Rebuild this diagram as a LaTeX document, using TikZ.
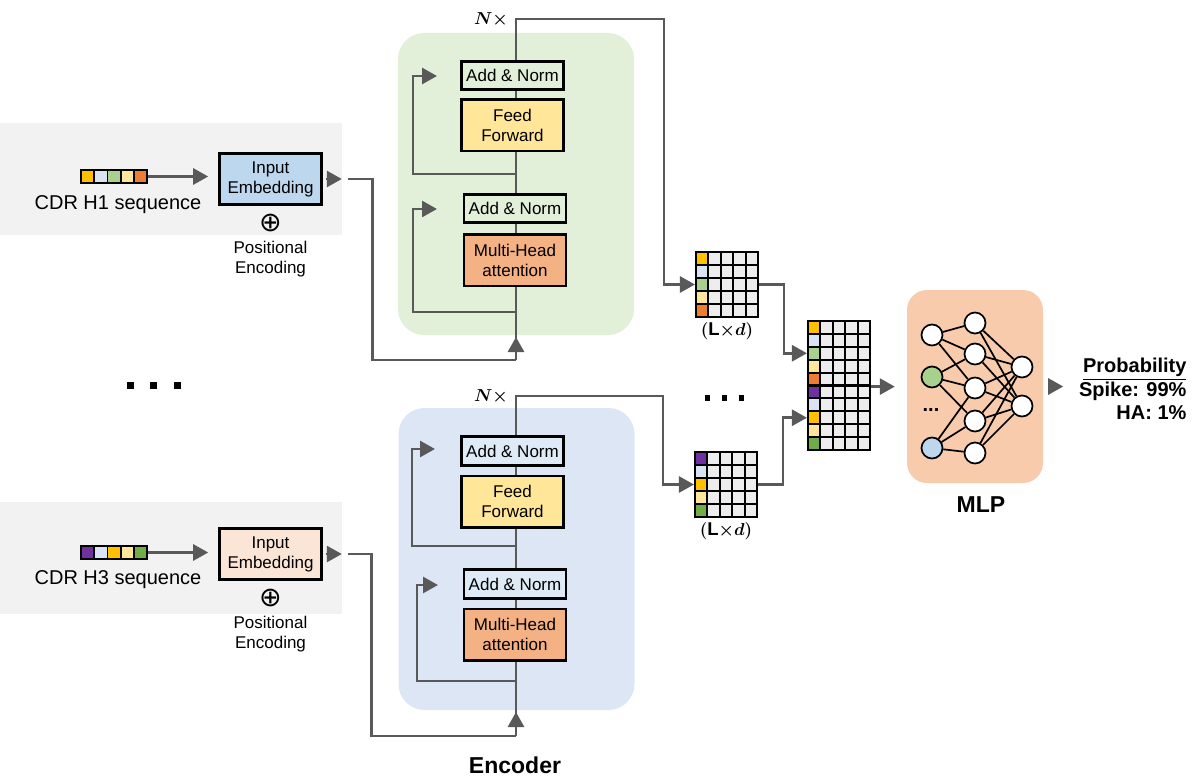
\documentclass[tikz,border=0pt]{standalone}
\usepackage{amsmath}
\usepackage{fontspec}
\setmainfont{Liberation Sans}
\newfontfamily\symfont{DejaVu Sans}
\usepackage{tikz}
\usetikzlibrary{positioning,arrows.meta,calc}
\definecolor{arrgray}{HTML}{595959}
\definecolor{bandgray}{HTML}{F2F2F2}
\definecolor{greenbg}{HTML}{E2F0D9}
\definecolor{bluebg}{HTML}{DCE6F4}
\definecolor{embblue}{HTML}{BDD7EE}
\definecolor{embpeach}{HTML}{FBE5D6}
\definecolor{ffyellow}{HTML}{FFE699}
\definecolor{mhaorange}{HTML}{F4B183}
\definecolor{mlppeach}{HTML}{F8CBAD}
\definecolor{normblue}{HTML}{DEEBF7}
\definecolor{cellgray}{HTML}{EDEDED}
\definecolor{cgold}{HTML}{FFC000}
\definecolor{clblue}{HTML}{DAE3F3}
\definecolor{cgreen}{HTML}{A9D18E}
\definecolor{cyellow}{HTML}{FFE699}
\definecolor{corange}{HTML}{ED7D31}
\definecolor{cpurple}{HTML}{7030A0}
\definecolor{cdgreen}{HTML}{70AD47}

\begin{document}
\begin{tikzpicture}[
  x=1pt, y=-1pt,
  font=\fontsize{17}{20}\selectfont,
  band/.style={fill=bandgray,inner sep=0pt,minimum width=342pt,minimum height=112pt},
  encpanel/.style={rounded corners=26pt,inner sep=0pt,minimum width=236pt,minimum height=302pt},
  blk/.style={draw=black,line width=2.6pt,align=center,minimum width=102pt,inner sep=0pt},
  addnorm/.style={blk,minimum height=28.5pt},
  layerbox/.style={blk,minimum height=51.5pt},
  sq/.style={draw=black,line width=1.8pt,minimum width=13.2pt,minimum height=13pt,inner sep=0pt},
  cell/.style={draw=black,line width=2.1pt,minimum width=12.4pt,minimum height=13pt,inner sep=0pt,fill=cellgray},
  arr/.style={-{Triangle[length=15pt,width=16pt]},draw=arrgray,line width=2.8pt},
  wire/.style={draw=arrgray,line width=2.8pt},
  neuron/.style={circle,draw=black,line width=1.7pt,fill=white,minimum size=21pt,inner sep=0pt},
  link/.style={black,line width=1.7pt},
  lab/.style={font=\fontsize{20}{24}\selectfont},
  biglab/.style={font=\bfseries\fontsize{23}{23}\selectfont},
  mathlab/.style={font=\boldmath\fontsize{18.5}{18.5}\selectfont},
  plussym/.style={font=\symfont\fontsize{27}{27}\selectfont,inner sep=0pt}
]
\useasboundingbox (0,0) rectangle (1200,784);

% input bands and panels
\node[band] (band1) at (171,179) {};
\node[band] (band2) at (171,557.5) {};
\node[encpanel,fill=greenbg] (enc1) at (516,184) {};
\node[encpanel,fill=bluebg] (enc2) at (516.5,559) {};
\node[fill=mlppeach,rounded corners=20pt,minimum width=136pt,minimum height=193pt] (mlp) at (975,386.5) {};

% embedding matrices
\foreach \r/\cc in {1/cgold,2/clblue,3/cgreen,4/cyellow,5/corange}{
  \node[cell,fill=\cc] (ma-\r-1) at (702.2,{252+13*\r-6.5}) {};
  \foreach \c in {2,...,5}
    \node[cell] (ma-\r-\c) at ({696+12.4*\c-6.2},{252+13*\r-6.5}) {};
}
\foreach \r/\cc in {1/cpurple,2/clblue,3/cgold,4/cyellow,5/cdgreen}{
  \node[cell,fill=\cc] (mb-\r-1) at (701.2,{452+13*\r-6.5}) {};
  \foreach \c in {2,...,5}
    \node[cell] (mb-\r-\c) at ({695+12.4*\c-6.2},{452+13*\r-6.5}) {};
}
\foreach \r/\cc in {1/cgold,2/clblue,3/cgreen,4/cyellow,5/corange,6/cpurple,7/clblue,8/cgold,9/cyellow,10/cdgreen}{
  \node[cell,fill=\cc] (mc-\r-1) at (814.2,{321+12.9*\r-6.45}) {};
  \foreach \c in {2,...,5}
    \node[cell] (mc-\r-\c) at ({808+12.4*\c-6.2},{321+12.9*\r-6.45}) {};
}
\node[mathlab,below=1pt of ma-5-3] (ld1) {$(\mathrm{L}{\times}d)$};
\node[mathlab,below=1pt of mb-5-3] (ld2) {$(\mathrm{L}{\times}d)$};

% CDR H1 branch
\foreach \i/\cc in {1/cgold,2/clblue,3/cgreen,4/cyellow,5/corange}
  \node[sq,fill=\cc] (sa-\i) at ({81+13.2*\i-6.6},176.5) {};
\node[lab,anchor=base] (cdr1) at (118,209) {CDR H1 sequence};
\node[blk,minimum height=51.5pt,fill=embblue] (emb1) at (270.5,179) {Input\\Embedding};
\node[plussym,below=8pt of emb1] (plus1) {⊕};
\node[below=5pt of plus1,align=center] (pe1) {Positional\\Encoding};
\draw[arr,shorten >=10pt] (sa-5.east) -- (sa-5.east -| emb1.west);
\draw[arr,shorten <=3pt] (emb1.east) -- ++(19,0);

\coordinate (t1b) at (516,360);
\coordinate (t1t) at (516,19);
\coordinate (r1a) at (516,174);
\coordinate (r1b) at (516,312);
\draw[wire] ($(emb1.east)+(25,0)$) -- ++(25,0) |- (t1b);
\draw[arr] (t1b) -- (t1t) -| ($(ma-3-1.west)+(-31,0)$) -- (ma-3-1.west);
\draw[arr] (t1b) -- ++(0,-23);
\draw[arr] (r1a) -| ++(-103,-98) -- ++(24,0);
\draw[arr] (r1b) -| ++(-103,-103) -- ++(24,0);

\node[addnorm,fill=greenbg] (an1) at (512.5,75.5) {Add \& Norm};
\node[layerbox,fill=ffyellow,below=7pt of an1] (ff1) {Feed\\Forward};
\node[addnorm,fill=greenbg] (an2) at (515,208.5) {Add \& Norm};
\node[layerbox,fill=mhaorange,below=9pt of an2] (mh1) {Multi-Head\\attention};
\node[mathlab] (nx1) at (491,20) {$N\times$};

% CDR H3 branch
\foreach \i/\cc in {1/cpurple,2/clblue,3/cgold,4/cyellow,5/cdgreen}
  \node[sq,fill=\cc] (sb-\i) at ({81+13.2*\i-6.6},552.5) {};
\node[lab,anchor=base] (cdr2) at (118,584) {CDR H3 sequence};
\node[blk,minimum height=51.5pt,fill=embpeach] (emb2) at (270.5,554) {Input\\Embedding};
\node[plussym,below=8pt of emb2] (plus2) {⊕};
\node[below=5pt of plus2,align=center] (pe2) {Positional\\Encoding};
\draw[arr,shorten >=10pt] (sb-5.east) -- (sb-5.east -| emb2.west);
\draw[arr,shorten <=3pt] (emb2.east) -- ++(19,0);

\coordinate (t2b) at (516,736);
\coordinate (t2t) at (516,396);
\coordinate (r2a) at (516,546);
\coordinate (r2b) at (516,681);
\draw[wire] ($(emb2.east)+(25,0)$) -- ++(24,0) |- (t2b);
\draw[arr] (t2b) -- (t2t) -| ($(mb-3-1.west)+(-31,0)$) -- (mb-3-1.west);
\draw[arr] (t2b) -- ++(0,-24);
\draw[arr] (r2a) -| ++(-104,-97) -- ++(23,0);
\draw[arr] (r2b) -| ++(-99,-96) -- ++(21,0);

\node[addnorm,fill=normblue] (an3) at (512.5,451) {Add \& Norm};
\node[layerbox,fill=ffyellow,below=8pt of an3] (ff2) {Feed\\Forward};
\node[addnorm,fill=normblue] (an4) at (515,584) {Add \& Norm};
\node[layerbox,fill=mhaorange,below=8pt of an4] (mh2) {Multi-Head\\attention};
\node[mathlab] (nx2) at (491,397) {$N\times$};
\node[biglab] (enclab) at (515,765) {Encoder};

% concatenation
\draw[arr] (ma-3-5.east) -- ++(25,0) |- (mc-3-1.west);
\draw[arr] (mb-3-5.east) -- ++(25,0) |- (mc-8-1.west);
\node (dotsL) at (153.5,385) {\rule{7pt}{7pt}\hspace{16.5pt}\rule{7pt}{7pt}\hspace{16.5pt}\rule{7pt}{7pt}};
\node (dotsM) at (724.5,398) {\rule{5.5pt}{5.5pt}\hspace{11.5pt}\rule{5.5pt}{5.5pt}\hspace{11.5pt}\rule{5.5pt}{5.5pt}};

% MLP
\node[neuron] (a1) at (932,335) {};
\node[neuron,fill=cgreen] (a2) at (932,377) {};
\node[neuron,fill=embblue] (a3) at (932,448) {};
\node[font=\bfseries\fontsize{20}{20}\selectfont] (adots) at (931,410) {...};
\node[neuron] (b1) at (975,323) {};
\node[neuron] (b2) at (975,354) {};
\node[neuron] (b3) at (975,388) {};
\node[neuron] (b4) at (975,421) {};
\node[neuron] (b5) at (975,453) {};
\node[neuron] (c1) at (1022,367) {};
\node[neuron] (c2) at (1022,406) {};
\foreach \s/\t in {a1/b1,a1/b2,a1/b3,a2/b2,a2/b3,a2/b4,a3/b3,a3/b4,a3/b5}
  \draw[link] (\s) -- (\t);
\foreach \i in {1,...,5}
  \foreach \j in {1,2}
    \draw[link] (b\i) -- (c\j);
\node[biglab] (mlplab) at (981,505) {MLP};

\draw[arr,shorten >=12pt] (mc-5-5.south east) -- (mc-5-5.south east -| mlp.west);
\draw[arr,shorten <=5pt] (mlp.east) -- ++(20,0);
\node[anchor=east,align=right,font=\bfseries\fontsize{20}{23.5}\selectfont] (prob) at (1190,389)
  {\underline{Probability}\\Spike: 99\%\\HA: 1\%};
\end{tikzpicture}
\end{document}
